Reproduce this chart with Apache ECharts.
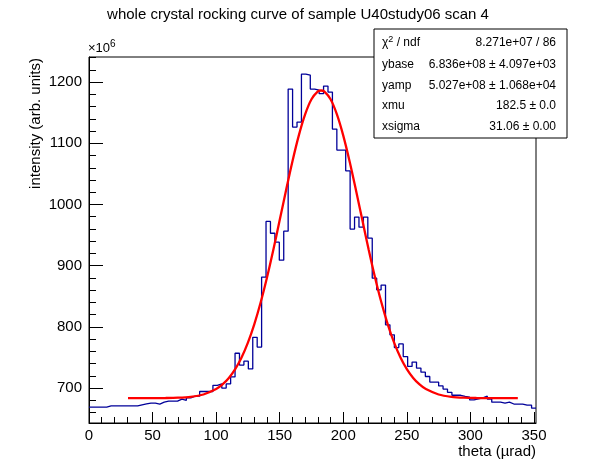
<!DOCTYPE html>
<html>
<head>
    <meta charset="utf-8">
    <title>rocking curve</title>
    <script src="https://cdn.jsdelivr.net/npm/echarts@6/dist/echarts.min.js"></script>
    <style>
        html, body { margin: 0; padding: 0; background: #fff; }
        #chart1 { width: 596px; height: 472px; }
    </style>
</head>
<body>
<div id="chart1"></div>
<script>
    // histogram: 101 bins from 0 to xMax (theta, urad), contents in units of 1e6
    var xMax = 351.6;
    var nBins = 101;
    var counts = [
        669, 669, 669, 669, 671, 671, 671, 671, 671, 671,
        671, 672.7, 674.3, 675.5, 675.5, 674, 677, 678.8, 678.8, 678.8,
        682, 680, 684.2, 686.9, 686.9, 694.5, 694.5, 694.5, 704.5, 706.8,
        700, 706.8, 718.3, 757, 737.6, 744, 731.3, 783, 767, 881.4,
        972.3, 953, 938.5, 909, 956.5, 1188.6, 1126.5, 1134.6, 1213, 1211.4,
        1188.6, 1187, 1181, 1193.5, 1183.7, 1123.2, 1088.9, 1088.9, 1055, 959.8,
        979.4, 963, 979.4, 945, 879.7, 860.6, 868.3, 803.4, 787.1, 766.3,
        772.2, 751.6, 735.5, 742.5, 732.7, 726.1, 719, 709.8, 709.8, 703.5,
        698.4, 693.2, 688.3, 688.3, 686.6, 685.3, 680.7, 682.5, 684, 686.8,
        682.2, 677.1, 677.1, 675.5, 677.1, 674, 674, 674, 672.2, 672.2,
        667.3
    ];

    // fitted curve
    var fitX = [30.7, 40, 50, 60, 70, 80, 90, 100, 105, 110, 115, 120, 125, 130, 135, 140, 145,
        150, 155, 160, 165, 170, 175, 180, 182.5, 185, 190, 195, 200, 205, 210, 215, 220,
        225, 230, 235, 240, 245, 250, 255, 260, 265, 275, 285, 295, 305, 315, 325, 337.3];
    var fitY = [683.6, 683.6, 683.7, 683.8, 684.3, 685.8, 689.6, 698.4, 706, 716.6, 731, 750, 774.2, 804.1, 839.8, 880.8, 926.2,
        974.5, 1023.4, 1070.4, 1112.6, 1147.2, 1171.9, 1184.7, 1186.3, 1184.7, 1171.9, 1147.2, 1112.6, 1070.4, 1023.4, 974.5, 926.2,
        880.8, 839.8, 804.1, 774.2, 750, 731, 716.6, 706, 698.4, 689.6, 685.8, 684.3, 683.8, 683.7, 683.6, 683.6];

    var xTicks = [0, 50, 100, 150, 200, 250, 300, 350];
    var xMinorTicks = [10, 20, 30, 40, 60, 70, 80, 90, 110, 120, 130, 140, 160, 170, 180, 190,
        210, 220, 230, 240, 260, 270, 280, 290, 310, 320, 330, 340];
    var yTicks = [700, 800, 900, 1000, 1100, 1200];
    var yMinorTicks = [660, 680, 720, 740, 760, 780, 820, 840, 860, 880, 920, 940, 960, 980,
        1020, 1040, 1060, 1080, 1120, 1140, 1160, 1180, 1220, 1240];
    var yMin = 643, yMax = 1241;

    var statNames = ['χ{sup|2} / ndf', 'ybase', 'yamp', 'xmu', 'xsigma'];
    var statValues = ['8.271e+07 / 86', '6.836e+08 ± 4.097e+03', '5.027e+08 ± 1.068e+04', '182.5 ± 0.0', '31.06 ± 0.00'];

    var binW = xMax / nBins;
    var histPts = [];
    for (var i = 0; i < counts.length; i++) {
        histPts.push([i * binW, counts[i]]);
    }
    histPts.push([counts.length * binW, counts[counts.length - 1]]);

    var fitPts = fitX.map(function (x, i) { return [x, fitY[i]]; });

    var font = 'Liberation Sans, Arial, Helvetica, sans-serif';

    var graphics = [
        {
            type: 'text', x: 298, y: 15,
            style: { text: 'whole crystal rocking curve of sample U40study06 scan 4', font: '15px ' + font,
                fill: '#000', textAlign: 'center', textVerticalAlign: 'middle' }
        },
        {
            type: 'text', x: 88, y: 48,
            style: { text: '×10{sup|6}', font: '13px ' + font, fill: '#000', textVerticalAlign: 'middle',
                rich: { sup: { fontSize: 10, fontFamily: font, padding: [0, 0, 8, 0] } } }
        },
        {
            type: 'text', x: 536, y: 452,
            style: { text: 'theta (µrad)', font: '15px ' + font, fill: '#000',
                textAlign: 'right', textVerticalAlign: 'middle' }
        },
        {
            type: 'text', x: 36, y: 58, rotation: Math.PI / 2,
            style: { text: 'intensity (arb. units)', font: '15px ' + font, fill: '#000',
                textAlign: 'right', textVerticalAlign: 'middle' }
        },
        {
            type: 'rect', shape: { x: 374, y: 29, width: 193, height: 109 }, z: 10,
            style: { fill: '#fff', stroke: '#000', lineWidth: 1 }
        }
    ];
    var rowY = [43, 64.5, 85.5, 106, 127];
    statNames.forEach(function (name, i) {
        graphics.push({
            type: 'text', x: 382, y: rowY[i], z: 11,
            style: { text: name, font: '12px ' + font, fill: '#000', textVerticalAlign: 'middle',
                rich: { sup: { fontSize: 9, fontFamily: font, padding: [0, 0, 6, 0] } } }
        });
        graphics.push({
            type: 'text', x: 556, y: rowY[i], z: 11,
            style: { text: statValues[i], font: '12px ' + font, fill: '#000',
                textAlign: 'right', textVerticalAlign: 'middle' }
        });
    });

    var myChart1 = echarts.init(document.getElementById('chart1'));
    myChart1.setOption({
        animation: false,
        grid: { left: 89, right: 60, top: 57, bottom: 49, show: true, borderColor: '#000', borderWidth: 1, backgroundColor: '#fff' },
        xAxis: [
            {
                type: 'value', min: 0, max: xMax,
                axisLine: { lineStyle: { color: '#000', width: 1 } },
                axisTick: { inside: true, length: 11, customValues: xTicks, lineStyle: { color: '#000' } },
                axisLabel: { customValues: xTicks, color: '#000', fontSize: 15, fontFamily: font, margin: 5,
                    formatter: function (v) { return String(v); } },
                splitLine: { show: false }
            },
            {
                type: 'value', min: 0, max: xMax, position: 'bottom',
                axisLine: { show: false },
                axisTick: { inside: true, length: 6, customValues: xMinorTicks, lineStyle: { color: '#000' } },
                axisLabel: { show: false },
                splitLine: { show: false }
            }
        ],
        yAxis: [
            {
                type: 'value', min: yMin, max: yMax,
                axisLine: { show: true, lineStyle: { color: '#000', width: 1 } },
                axisTick: { show: true, inside: true, length: 14, customValues: yTicks, lineStyle: { color: '#000' } },
                axisLabel: { customValues: yTicks, color: '#000', fontSize: 15, fontFamily: font, margin: 7,
                    formatter: function (v) { return String(v); } },
                splitLine: { show: false }
            },
            {
                type: 'value', min: yMin, max: yMax, position: 'left',
                axisLine: { show: false },
                axisTick: { show: true, inside: true, length: 7, customValues: yMinorTicks, lineStyle: { color: '#000' } },
                axisLabel: { show: false },
                splitLine: { show: false }
            }
        ],
        series: [
            {
                name: 'histogram', type: 'line', step: 'end', data: histPts,
                xAxisIndex: 0, yAxisIndex: 0, symbol: 'none',
                lineStyle: { color: '#000099', width: 1.3 }, z: 2
            },
            {
                name: 'fit', type: 'line', smooth: 0.3, data: fitPts,
                xAxisIndex: 0, yAxisIndex: 0, symbol: 'none',
                lineStyle: { color: '#ff0000', width: 2.3 }, z: 3
            }
        ],
        graphic: graphics
    });
</script>
</body>
</html>
